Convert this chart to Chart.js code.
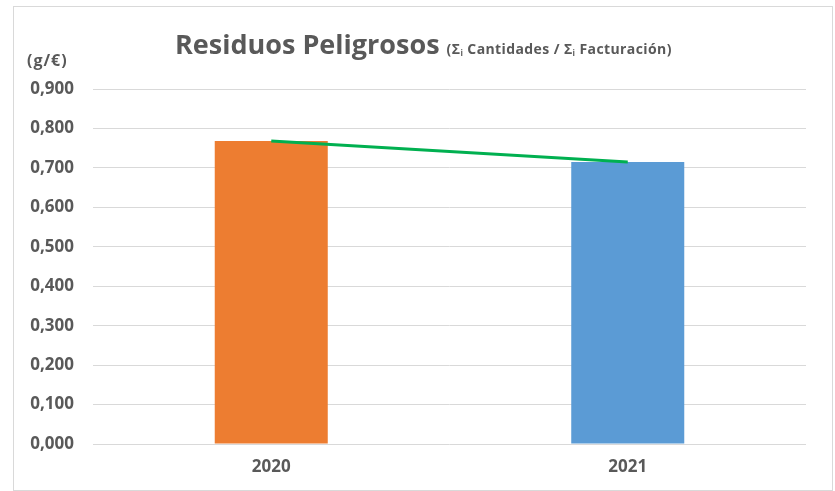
<!DOCTYPE html>
<html><head><meta charset="utf-8">
<script src="https://cdn.jsdelivr.net/npm/chart.js@4"></script>
<style>html,body{margin:0;padding:0;background:#fff}#wrap{width:835px;height:491px;position:relative}</style>
</head><body><div id="wrap"><canvas id="c" width="835" height="491"></canvas></div>
<script>
const categories = ['2020', '2021'];
const barValues = [0.768, 0.715];
const trendValues = [0.768, 0.715];
const barColors = ['#ED7D31', '#5B9BD5'];
const yTicks = [0, 0.1, 0.2, 0.3, 0.4, 0.5, 0.6, 0.7, 0.8, 0.9];
const titleMain = 'Residuos Peligrosos';
const unitLabel = '(g/€)';

const FONT = '"Open Sans", sans-serif';
const GREY = '#595959';

const decor = {
  id: 'decor',
  beforeDraw(chart) {
    const ctx = chart.ctx;
    ctx.save();
    ctx.fillStyle = '#fff';
    ctx.fillRect(0, 0, chart.width, chart.height);
    ctx.strokeStyle = '#d9d9d9';
    ctx.lineWidth = 1;
    ctx.strokeRect(13.5, 6.5, 819, 484);
    ctx.restore();
  },
  afterDraw(chart) {
    const ctx = chart.ctx;
    ctx.save();
    ctx.fillStyle = GREY;
    ctx.textBaseline = 'alphabetic';
    let x = 175, y = 54;
    ctx.font = 'bold 27px ' + FONT;
    ctx.fillText(titleMain, x, y);
    x += ctx.measureText(titleMain).width + 7;
    const hasLS = 'letterSpacing' in ctx;
    if (hasLS) ctx.letterSpacing = '0.4px';
    const parts = [['(Σ', 0], ['i', 1], [' Cantidades / Σ', 0], ['i', 1], [' Facturación)', 0]];
    for (const [t, sub] of parts) {
      ctx.font = sub ? 'bold 8px ' + FONT : 'bold 14px ' + FONT;
      ctx.fillText(t, x, sub ? y + 2 : y);
      x += ctx.measureText(t).width;
    }
    ctx.font = 'bold 16px ' + FONT;
    if (hasLS) ctx.letterSpacing = '1px';
    ctx.fillText(unitLabel, 27, 66);
    ctx.restore();
  }
};

new Chart(document.getElementById('c'), {
  data: {
    labels: categories,
    datasets: [
      { type: 'line', data: trendValues, borderColor: '#00B050', borderWidth: 3, pointRadius: 0, order: 0, tension: 0 },
      { type: 'bar', data: barValues, backgroundColor: barColors, barPercentage: 0.317, categoryPercentage: 1, order: 1 }
    ]
  },
  options: {
    responsive: false,
    animation: false,
    devicePixelRatio: 1,
    layout: { padding: { left: 13, right: 29, top: 89, bottom: 0 } },
    plugins: { legend: { display: false }, tooltip: { enabled: false }, title: { display: false } },
    scales: {
      x: {
        grid: { display: false, drawTicks: false },
        border: { display: false },
        ticks: { color: GREY, font: { family: FONT, size: 17, weight: 'bold' }, padding: 13 },
        afterFit(s) { s.height = 47; }
      },
      y: {
        min: 0, max: 0.9,
        afterBuildTicks(s) { s.ticks = yTicks.map(v => ({ value: v })); },
        grid: { color: '#d9d9d9', lineWidth: 1, drawTicks: false },
        border: { display: false },
        ticks: {
          color: GREY, font: { family: FONT, size: 17, weight: 'bold' }, padding: 19,
          callback: v => Number(v).toFixed(3).replace('.', ',')
        },
        afterFit(s) { s.width = 80; }
      }
    }
  },
  plugins: [decor]
});
</script></body></html>
